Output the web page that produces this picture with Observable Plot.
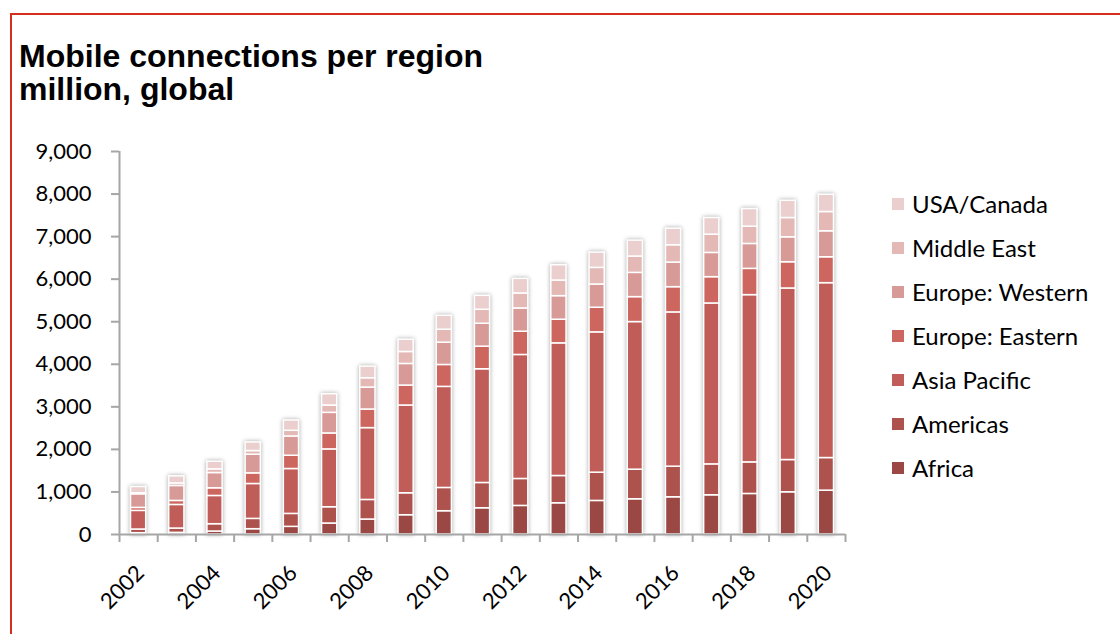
<!DOCTYPE html>
<html><head><meta charset="utf-8">
<script src="https://cdn.jsdelivr.net/npm/d3@7"></script>
<script src="https://cdn.jsdelivr.net/npm/@observablehq/plot@0.6"></script>
<style>
html,body{margin:0;padding:0;background:#fff;}
#wrap{position:relative;width:1120px;height:634px;overflow:hidden;}
#frame{position:absolute;left:10px;top:13px;right:-10px;bottom:-10px;border-top:2px solid #d42e1c;border-left:2px solid #d42e1c;}
#title{position:absolute;left:19px;top:40px;font-family:"Liberation Sans",Arial,sans-serif;font-weight:bold;font-size:32px;line-height:33px;color:#000;}
#chart{position:absolute;left:0;top:130px;}
#legend{position:absolute;left:892px;top:181px;font-family:Lato,sans-serif;font-size:24px;color:#000;}
.item{height:44px;display:flex;align-items:center;}
.sw{width:12px;height:12px;margin-right:8px;flex:none;position:relative;top:1px;}
#chart g[aria-label="rect"]{filter:drop-shadow(0 0 2px rgba(0,0,0,0.35));}
</style></head>
<body>
<div id="wrap">
  <div id="frame"></div>
  <div id="title">Mobile connections per region<br>million, global</div>
  <div id="chart"></div>
  <div id="legend"></div>
</div>
<script>
const years = [2002,2003,2004,2005,2006,2007,2008,2009,2010,2011,2012,2013,2014,2015,2016,2017,2018,2019,2020];
const xLabelYears = [2002,2004,2006,2008,2010,2012,2014,2016,2018,2020];
const yTicks = [0,1000,2000,3000,4000,5000,6000,7000,8000,9000];

// bottom -> top stacking order
const regions = ["Africa","Americas","Asia Pacific","Europe: Eastern","Europe: Western","Middle East","USA/Canada"];
const colors  = ["#9b4844","#ad524c","#c05d58","#cd665f","#d89a97","#e3b8b5","#ebcfcf"];

const africa        = [31,39,70,125,180,258,352,453,547,617,672,734,789,828,875,922,953,992,1031];
const americas      = [86,101,172,242,304,383,460,516,547,594,633,641,664,695,719,726,742,758,766];
const asiaPacific   = [438,555,664,820,1055,1359,1688,2062,2375,2672,2914,3117,3297,3469,3625,3781,3930,4031,4109];
const europeEastern = [70,94,180,250,312,375,437,469,515,531,546,555,578,586,593,618,617,617,609];
const europeWestern = [320,352,359,438,453,484,516,508,524,539,547,554,547,570,578,570,586,586,610];
const middleEast    = [24,59,86,86,133,172,219,281,304,328,352,367,390,383,407,429,406,453,453];
const usaCanada     = [148,167,180,203,243,266,273,289,328,328,343,360,360,375,390,391,414,406,406];

const seriesValues = [africa, americas, asiaPacific, europeEastern, europeWestern, middleEast, usaCanada];

const data = [];
years.forEach((yr, i) => {
  regions.forEach((r, k) => data.push({year: yr, region: r, value: seriesValues[k][i]}));
});
const edges = years.map(y => y - 0.5).concat([years[years.length - 1] + 0.5]);
const axisGray = "#a6a6a6";

const chart = Plot.plot({
  width: 870, height: 500,
  marginTop: 21, marginBottom: 96, marginLeft: 119, marginRight: 25,
  x: {domain: [edges[0], edges[edges.length - 1]], axis: null},
  y: {domain: [0, 9000], axis: null},
  color: {domain: regions, range: colors},
  style: {fontFamily: "Lato, sans-serif", fontSize: "22px", background: "transparent", overflow: "visible", color: "#000"},
  marks: [
    Plot.rectY(data, Plot.stackY({
      x1: d => d.year - 0.5, x2: d => d.year + 0.5, y: "value", fill: "region",
      stroke: "#fff", strokeWidth: 1.5, insetLeft: 11.5, insetRight: 11.5
    })),
    Plot.axisY({ticks: yTicks, label: null, tickSize: 8, tickPadding: 20, tickFormat: d3.format(","), stroke: axisGray, strokeWidth: 2, fill: "#000", fontSize: 22}),
    Plot.axisX({ticks: edges, label: null, tickSize: 8, tickFormat: () => "", stroke: axisGray, strokeWidth: 2}),
    Plot.axisX({ticks: xLabelYears, label: null, tickSize: 0, tickPadding: 35, tickRotate: -45, dx: 2, tickFormat: d => String(d), fill: "#000", fontSize: 22}),
    Plot.ruleX([edges[0]], {stroke: axisGray, strokeWidth: 2}),
    Plot.ruleY([0], {stroke: axisGray, strokeWidth: 2})
  ]
});
document.getElementById("chart").appendChild(chart);

const legend = document.getElementById("legend");
regions.slice().reverse().forEach((r) => {
  const k = regions.indexOf(r);
  const item = document.createElement("div");
  item.className = "item";
  const sw = document.createElement("div");
  sw.className = "sw";
  sw.style.background = colors[k];
  const t = document.createElement("span");
  t.textContent = r;
  item.appendChild(sw); item.appendChild(t);
  legend.appendChild(item);
});
</script>
</body></html>
